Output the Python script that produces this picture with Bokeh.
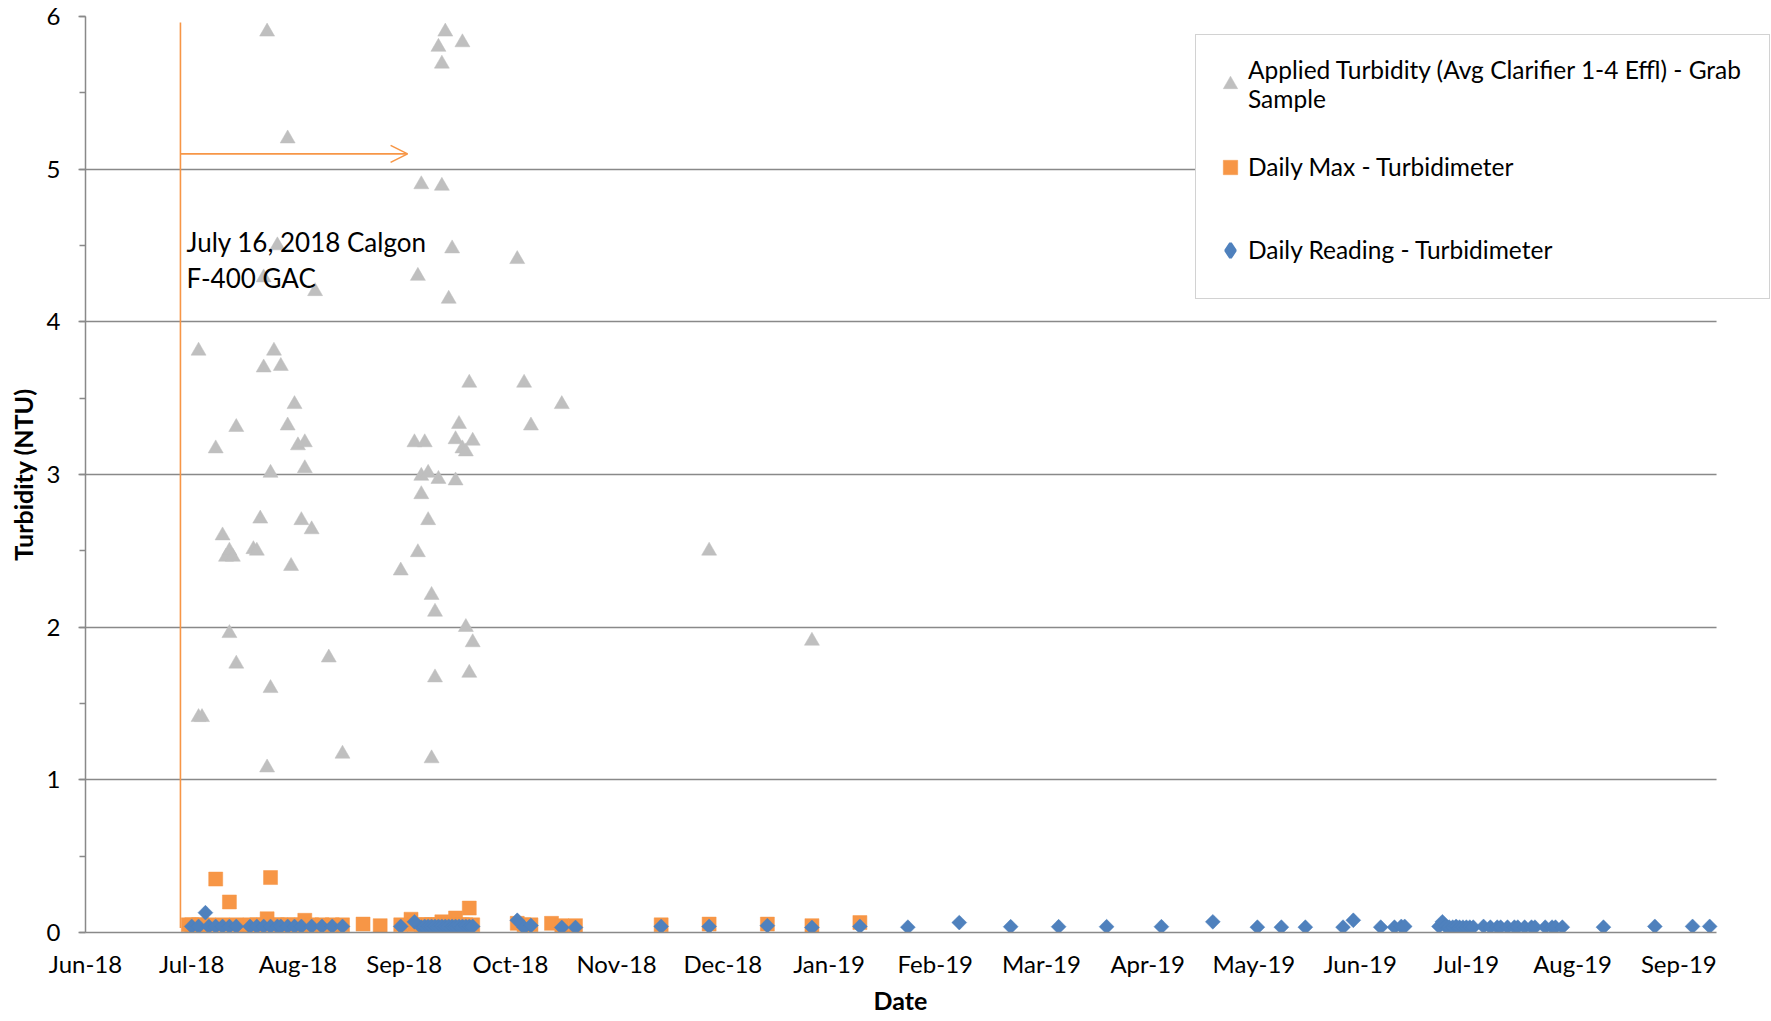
import numpy as np
import pandas as pd
from bokeh.plotting import figure
from bokeh.models import (ColumnDataSource, FixedTicker, SingleIntervalTicker, Range1d,
                          Legend, LegendItem, Label, Arrow, OpenHead, DatetimeTickFormatter,
                          Title, BoxAnnotation)
from bokeh.embed import file_html
from bokeh.resources import INLINE

# ---------------- data ----------------
applied_dates = [
    "2018-07-04", "2018-07-04", "2018-07-05", "2018-07-09", "2018-07-11", "2018-07-12",
    "2018-07-13", "2018-07-13", "2018-07-14", "2018-07-15", "2018-07-15", "2018-07-20",
    "2018-07-21", "2018-07-22", "2018-07-23", "2018-07-23", "2018-07-24", "2018-07-24",
    "2018-07-25", "2018-07-25", "2018-07-26", "2018-07-27", "2018-07-28", "2018-07-30",
    "2018-07-30", "2018-07-31", "2018-08-01", "2018-08-02", "2018-08-03", "2018-08-04",
    "2018-08-04", "2018-08-06", "2018-08-07", "2018-08-11", "2018-08-15", "2018-09-01",
    "2018-09-05", "2018-09-06", "2018-09-06", "2018-09-07", "2018-09-07", "2018-09-07",
    "2018-09-08", "2018-09-09", "2018-09-09", "2018-09-10", "2018-09-10", "2018-09-11",
    "2018-09-11", "2018-09-12", "2018-09-12", "2018-09-13", "2018-09-13", "2018-09-14",
    "2018-09-15", "2018-09-16", "2018-09-17", "2018-09-17", "2018-09-18", "2018-09-19",
    "2018-09-19", "2018-09-20", "2018-09-20", "2018-09-21", "2018-09-21", "2018-09-22",
    "2018-09-22", "2018-10-05", "2018-10-07", "2018-10-09", "2018-10-18", "2018-11-30",
    "2018-12-30",
]
applied_ntu = [
    3.81, 1.41, 1.41, 3.17, 2.60, 2.46,
    2.50, 1.96, 2.46, 3.31, 1.76, 2.51,
    2.50, 2.71, 3.70, 4.29, 5.90, 1.08,
    1.60, 3.01, 3.81, 4.50, 3.71, 5.20,
    3.32, 2.40, 3.46, 3.19, 2.70, 3.04,
    3.21, 2.64, 4.20, 1.80, 1.17, 2.37,
    3.21, 4.30, 2.49, 4.90, 2.87, 2.99,
    3.21, 3.01, 2.70, 1.14, 2.21, 1.67,
    2.10, 2.97, 5.80, 5.69, 4.89, 5.90,
    4.15, 4.48, 3.23, 2.96, 3.33, 5.83,
    3.17, 3.15, 2.00, 3.60, 1.70, 1.90,
    3.22, 4.41, 3.60, 3.32, 3.46, 2.50,
    1.91,
]

max_dates = [
    "2018-07-01", "2018-07-02", "2018-07-04", "2018-07-05", "2018-07-07", "2018-07-09",
    "2018-07-11", "2018-07-13", "2018-07-15", "2018-07-17", "2018-07-19", "2018-07-21",
    "2018-07-23", "2018-07-24", "2018-07-25", "2018-07-27", "2018-07-28", "2018-07-30",
    "2018-08-01", "2018-08-03", "2018-08-04", "2018-08-06", "2018-08-09", "2018-08-12",
    "2018-08-15", "2018-08-21", "2018-08-26", "2018-09-01", "2018-09-04", "2018-09-05",
    "2018-09-07", "2018-09-08", "2018-09-09", "2018-09-10", "2018-09-11", "2018-09-12",
    "2018-09-13", "2018-09-14", "2018-09-15", "2018-09-16", "2018-09-17", "2018-09-18",
    "2018-09-19", "2018-09-20", "2018-09-21", "2018-09-22", "2018-10-05", "2018-10-07",
    "2018-10-09", "2018-10-15", "2018-10-18", "2018-10-22", "2018-11-16", "2018-11-30",
    "2018-12-17", "2018-12-30", "2019-01-13",
]
max_ntu = [
    0.05, 0.05, 0.05, 0.05, 0.05, 0.35,
    0.05, 0.20, 0.05, 0.04, 0.05, 0.05,
    0.05, 0.09, 0.36, 0.05, 0.05, 0.05,
    0.05, 0.05, 0.08, 0.05, 0.05, 0.05,
    0.05, 0.055, 0.045, 0.05, 0.087, 0.05,
    0.05, 0.05, 0.05, 0.05, 0.05, 0.05,
    0.07, 0.05, 0.05, 0.05, 0.095, 0.05,
    0.05, 0.05, 0.16, 0.05, 0.06, 0.05,
    0.05, 0.06, 0.045, 0.045, 0.05, 0.055,
    0.055, 0.045, 0.065,
]

reading_dates = [
    "2018-07-02", "2018-07-04", "2018-07-06", "2018-07-07", "2018-07-09", "2018-07-11",
    "2018-07-13", "2018-07-15", "2018-07-19", "2018-07-21", "2018-07-23", "2018-07-25",
    "2018-07-27", "2018-07-28", "2018-07-30", "2018-08-01", "2018-08-03", "2018-08-06",
    "2018-08-09", "2018-08-12", "2018-08-15", "2018-09-01", "2018-09-05", "2018-09-07",
    "2018-09-08", "2018-09-09", "2018-09-10", "2018-09-11", "2018-09-12", "2018-09-13",
    "2018-09-14", "2018-09-15", "2018-09-16", "2018-09-17", "2018-09-18", "2018-09-19",
    "2018-09-20", "2018-09-21", "2018-09-22", "2018-10-05", "2018-10-07", "2018-10-09",
    "2018-10-18", "2018-10-22", "2018-11-16", "2018-11-30", "2018-12-17", "2018-12-30",
    "2019-01-13", "2019-01-27", "2019-02-11", "2019-02-26", "2019-03-12", "2019-03-26",
    "2019-04-11", "2019-04-26", "2019-05-09", "2019-05-16", "2019-05-23", "2019-06-03",
    "2019-06-06", "2019-06-14", "2019-06-18", "2019-06-20", "2019-06-21", "2019-07-01",
    "2019-07-02", "2019-07-03", "2019-07-04", "2019-07-05", "2019-07-06", "2019-07-07",
    "2019-07-08", "2019-07-09", "2019-07-10", "2019-07-11", "2019-07-14", "2019-07-16",
    "2019-07-18", "2019-07-19", "2019-07-21", "2019-07-23", "2019-07-24", "2019-07-26",
    "2019-07-28", "2019-07-29", "2019-08-01", "2019-08-03", "2019-08-04", "2019-08-06",
    "2019-08-18", "2019-09-02", "2019-09-13", "2019-09-18",
]
reading_ntu = [
    0.04, 0.04, 0.13, 0.04, 0.04, 0.04,
    0.04, 0.04, 0.04, 0.04, 0.04, 0.04,
    0.04, 0.04, 0.04, 0.04, 0.04, 0.04,
    0.04, 0.04, 0.04, 0.04, 0.07, 0.035,
    0.04, 0.04, 0.04, 0.04, 0.04, 0.04,
    0.04, 0.04, 0.04, 0.04, 0.04, 0.04,
    0.04, 0.04, 0.04, 0.08, 0.033, 0.046,
    0.033, 0.033, 0.04, 0.04, 0.045, 0.033,
    0.04, 0.035, 0.065, 0.038, 0.038, 0.038,
    0.038, 0.07, 0.035, 0.035, 0.035, 0.035,
    0.08, 0.035, 0.035, 0.04, 0.04, 0.04,
    0.07, 0.04, 0.035, 0.035, 0.04, 0.035,
    0.035, 0.035, 0.035, 0.035, 0.04, 0.035,
    0.035, 0.035, 0.035, 0.035, 0.035, 0.035,
    0.035, 0.035, 0.035, 0.035, 0.035, 0.035,
    0.035, 0.04, 0.04, 0.04,
]

tick_dates = ["2018-06-01", "2018-07-02", "2018-08-02", "2018-09-02", "2018-10-03",
              "2018-11-03", "2018-12-04", "2019-01-04", "2019-02-04", "2019-03-07",
              "2019-04-07", "2019-05-08", "2019-06-08", "2019-07-09", "2019-08-09",
              "2019-09-09"]
tick_labels = ["Jun-18", "Jul-18", "Aug-18", "Sep-18", "Oct-18", "Nov-18", "Dec-18",
               "Jan-19", "Feb-19", "Mar-19", "Apr-19", "May-19", "Jun-19", "Jul-19",
               "Aug-19", "Sep-19"]
axis_limits = ["2018-06-01", "2019-09-20"]      # extent of the drawn x axis
view_limits = ["2018-06-01", "2019-10-06 01:00"]  # frame runs under the legend overhang
y_limits = [0, 6]

legend_labels = ["Applied Turbidity (Avg Clarifier 1-4 Effl) - Grab\nSample",
                 "Daily Max - Turbidimeter",
                 "Daily Reading - Turbidimeter"]

note_lines = ["July 16, 2018 Calgon", "F-400 GAC"]
note_date = "2018-06-30 12:00"
note_y = [4.52, 4.29]
marker_line_date = "2018-06-28 17:00"
marker_line_y = [0.03, 5.96]
arrow_end_date = "2018-09-03"
arrow_y = 5.10

# ---------------- helpers ----------------
def ms(d):
    return pd.Timestamp(d).value / 1e6

GRAY = "#898989"
ORANGE = "#F79646"
BLUE = "#4F81BD"
TRI = "#BFBFBF"
FONT = "Lato"

p = figure(width=1771, height=1021, output_backend="svg", toolbar_location=None,
           x_axis_type="datetime",
           x_range=Range1d(ms(view_limits[0]), ms(view_limits[1])),
           y_range=Range1d(*y_limits),
           min_border_left=85, min_border_right=0, min_border_top=16, min_border_bottom=89)
p.outline_line_color = None
p.background_fill_color = "white"
p.border_fill_color = "white"

src_a = ColumnDataSource(dict(x=pd.to_datetime(applied_dates), y=applied_ntu))
src_m = ColumnDataSource(dict(x=pd.to_datetime(max_dates), y=max_ntu))
src_r = ColumnDataSource(dict(x=pd.to_datetime(reading_dates), y=reading_ntu))

r_a = p.scatter("x", "y", source=src_a, marker="triangle", size=15,
                fill_color=TRI, line_color=TRI, line_width=0.5)
r_m = p.scatter("x", "y", source=src_m, marker="square", size=14,
                fill_color=ORANGE, line_color=ORANGE, line_width=0.5)
# diamond-marker copy of the readings: sits under the rotated squares and supplies the
# legend swatch (legend glyphs are never rotated)
r_r_key = p.scatter("x", "y", source=src_r, marker="diamond", size=10,
                    fill_color=BLUE, line_color=BLUE, line_width=3)
r_r = p.scatter("x", "y", source=src_r, marker="square", size=10.5, angle=np.pi / 4,
                fill_color=BLUE, line_color=BLUE, line_width=0.5)

# hide the grid beyond the end of the x axis (area under the legend overhang)
p.add_layout(BoxAnnotation(left=ms(axis_limits[1]), fill_color="white", fill_alpha=1.0,
                           line_color=None, level="underlay"))

# annotation: vertical line + arrow + text
p.segment(x0=[ms(marker_line_date)], y0=[marker_line_y[0]],
          x1=[ms(marker_line_date)], y1=[marker_line_y[1]],
          line_color=ORANGE, line_width=1.6)
p.add_layout(Arrow(end=OpenHead(size=17, line_color=ORANGE, line_width=1.6),
                   x_start=ms(marker_line_date), y_start=arrow_y,
                   x_end=ms(arrow_end_date), y_end=arrow_y,
                   line_color=ORANGE, line_width=1.6))
for txt, yy in zip(note_lines, note_y):
    p.add_layout(Label(x=ms(note_date), y=yy, text=txt, text_font=FONT,
                       text_font_size="26px", text_color="black",
                       text_baseline="middle", text_align="left"))

# axes
xa = p.xaxis[0]
xa.bounds = (ms(axis_limits[0]), ms(axis_limits[1]))
xa.ticker = FixedTicker(ticks=[ms(d) for d in tick_dates])
fmt = "%b-%y"
xa.formatter = DatetimeTickFormatter(days=fmt, months=fmt, years=fmt, hours=fmt,
                                     hourmin=fmt, minutes=fmt, seconds=fmt,
                                     minsec=fmt, milliseconds=fmt, microseconds=fmt)
xa.major_label_overrides = {ms(d): lab for d, lab in zip(tick_dates, tick_labels)}
xa.major_tick_out = 0
xa.major_tick_in = 0
xa.minor_tick_out = 0
xa.minor_tick_in = 0
xa.major_label_standoff = 16

ya = p.yaxis[0]
ya.ticker = SingleIntervalTicker(interval=1, num_minor_ticks=2)
ya.axis_label = "Turbidity (NTU)"
ya.major_tick_out = 7
ya.major_tick_in = 0
ya.minor_tick_out = 6
ya.minor_tick_in = 0
ya.major_label_standoff = 18
ya.axis_label_standoff = 6

for ax in (xa, ya):
    ax.axis_line_color = GRAY
    ax.axis_line_width = 1.5
    ax.major_tick_line_color = GRAY
    ax.major_tick_line_width = 1.5
    ax.minor_tick_line_color = GRAY
    ax.minor_tick_line_width = 1.5
    ax.major_label_text_font = FONT
    ax.major_label_text_font_size = "24px"
    ax.major_label_text_color = "black"
    ax.axis_label_text_font = FONT
    ax.axis_label_text_font_size = "25px"
    ax.axis_label_text_font_style = "bold"
    ax.axis_label_text_color = "black"

# x axis title, centred under the drawn axis (the frame extends under the legend)
p.add_layout(Title(text="Date", align="left", offset=788, text_font=FONT,
                   text_font_size="25px", text_font_style="bold", text_color="black",
                   vertical_align="top", standoff=8), "below")

p.xgrid.grid_line_color = None
p.ygrid.grid_line_color = GRAY
p.ygrid.grid_line_width = 1.5

legend = Legend(items=[LegendItem(label=legend_labels[0], renderers=[r_a]),
                       LegendItem(label=legend_labels[1], renderers=[r_m]),
                       LegendItem(label=legend_labels[2], renderers=[r_r_key])],
                location=(1110, 932 - 299),
                label_text_font=FONT, label_text_font_size="24.5px",
                label_text_color="black", label_text_line_height=1.3,
                padding=16, spacing=18, label_height=65, label_width=505,
                glyph_width=36, glyph_height=40, label_standoff=0,
                border_line_color="#A6A6A6", border_line_width=1.5,
                background_fill_color="white", background_fill_alpha=1.0)
p.add_layout(legend)

open("out.html", "w").write(file_html(p, INLINE))
